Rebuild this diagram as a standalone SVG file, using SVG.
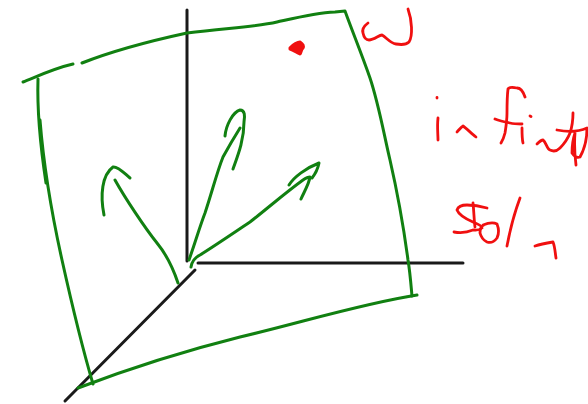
<svg xmlns="http://www.w3.org/2000/svg" width="588" height="404" viewBox="0 0 588 404">
<style>
path{fill:none;stroke-linecap:round;stroke-linejoin:round}
.k{stroke:#1a1a1a;stroke-width:3}
.g{stroke:#118011;stroke-width:3}
.r{stroke:#f01010;stroke-width:2.8}
</style>
<rect width="588" height="404" fill="#fff"/>
<g id="connectors">
<path class="k" d="M187 10V261"/>
<path class="k" d="M198 263H463"/>
<path class="k" d="M195 270L65 401"/>
</g>
<g id="plane">
<path class="g" d="M23 82C38 76 55 68 73 64"/>
<path class="g" d="M82 63C115 50 150 41 187 33C225 28 255 27 277 22C295 18 315 13 335 12L345 11C353 33 362 55 370 78C379 105 384 135 390 160C398 195 404 230 408 260C410 272 411 285 412 296"/>
<path class="g" d="M38 79C37 110 41 150 46 183"/>
<path class="g" d="M40 120C44 170 52 215 62 260C72 305 83 350 93 384"/>
<path class="g" d="M78 388C120 372 180 352 240 337C300 323 360 304 417 295"/>
</g>
<g id="arrows">
<path class="g" d="M178 283C172 265 166 254 157 243C145 228 125 198 115 180"/>
<path class="g" d="M104 215C100 195 102 175 113 167C118 166 125 174 130 178"/>
<path class="g" d="M189 260C195 243 200 226 205 213C212 192 217 172 223 157C229 146 235 136 240 128"/>
<path class="g" d="M225 136C226 125 233 112 240 110C245 110 245 116 244 122C244 140 238 155 233 169"/>
<path class="g" d="M191 267C192 261 196 257 200 255C216 245 232 234 250 222C268 208 285 193 303 180C306 178 308 177 310 177C309 184 304 192 301 199"/>
<path class="g" d="M289 185C294 177 306 168 319 163C318 168 316 173 312 178"/>
</g>
<g id="point">
<path class="r" style="fill:#f01010;stroke-width:3" d="M290 48C293 44 298 42 300 42C303 44 304 46 303 48C301 50 301 53 300 54C296 52 293 50 290 49Z"/>
</g>
<g id="annotations">
<path class="r" d="M368 23C364 26 362 30 363 33C364 38 366 40 369 40C374 40 379 35 382 35C386 37 390 43 396 44C402 45 407 44 409 42C413 36 412 20 408 9"/>
<path class="r" d="M437 97.5V98"/>
<path class="r" d="M438 118C437 127 438 134 438 140"/>
<path class="r" d="M457 132C459 130 461 127 463 126C466 128 472 134 476 137"/>
<path class="r" d="M525 97C523 91 520 88 517 88C512 87 509 87 508 89C507 97 507 105 507 113C507 120 506 127 505 133C504 137 503 140 501 143"/>
<path class="r" d="M495 119C500 121 505 122 510 123C514 124 518 124 522 124"/>
<path class="r" d="M530 116L531 116.5"/>
<path class="r" d="M522 128C522 134 522 139 523 143"/>
<path class="r" d="M537 144C539 142 541 140 543 140C546 142 547 149 550 150C554 152 557 151 560 148C565 143 568 138 570 133C572 127 573 120 573 113"/>
<path class="r" d="M557 130C567 132 578 132 587 128C587 138 584 150 580 157C577 158 574 156 572 153C572 146 573 139 575 133C574 145 575 157 576 165"/>
<path class="r" d="M487 208C480 206 473 205 467 205C462 205 458 207 457 210C459 215 466 219 473 222C478 224 482 226 482 228C478 231 476 230 473 230C466 233 460 233 454 232"/>
<path class="r" d="M473 203C474 212 474 220 475 227"/>
<path class="r" d="M483 225C488 223 493 222 497 224C499 229 499 234 497 238C494 242 490 243 487 242C483 240 481 237 480 233C480 229 481 226 484 225"/>
<path class="r" d="M520 198C514 214 510 230 507 246"/>
<path class="r" d="M535 246C541 244 547 243 553 242C555 247 555 252 556 258"/>
</g>
</svg>
